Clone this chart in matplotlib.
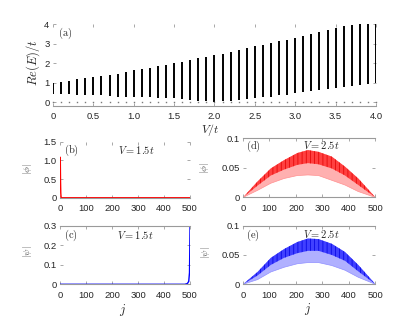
import numpy as np
import matplotlib
matplotlib.use('Agg')
import matplotlib.pyplot as plt

#%% data

# (a) real part of the spectrum vs V/t, one bar per V value
V = np.linspace(0, 4, 41)
re_upper = [1.01, 1.06, 1.11, 1.18, 1.23, 1.29, 1.34, 1.40, 1.46, 1.56, 1.63,
            1.70, 1.75, 1.83, 1.90, 2.00, 2.07, 2.14, 2.26, 2.31, 2.40,
            2.48, 2.59, 2.67, 2.77, 2.86, 2.94, 3.03, 3.11, 3.20, 3.30,
            3.41, 3.49, 3.60, 3.70, 3.78, 3.89, 3.95, 4.06, 4.06, 4.06]
re_lower = [0.42, 0.42, 0.42, 0.38, 0.38, 0.35, 0.35, 0.33, 0.29, 0.29, 0.29,
            0.26, 0.26, 0.23, 0.21, 0.21, 0.17, 0.12, 0.09, 0.05, 0.03,
            0.05, 0.07, 0.12, 0.16, 0.21, 0.26, 0.29, 0.35, 0.38, 0.47,
            0.52, 0.59, 0.64, 0.67, 0.72, 0.77, 0.84, 0.89, 0.94, 0.98]
re_zero = [0.0] * 41

# (b) |phi| at V = 1.5t, left edge state
j_b = [1, 2, 3, 4, 5, 500]
phi_b = [1.08, 0.45, 0.12, 0.03, 0.0, 0.0]

# (c) |psi| at V = 1.5t, right edge state
j_c = [1, 480, 490, 495, 498, 499, 500]
psi_c = [0.0, 0.0, 0.004, 0.015, 0.06, 0.17, 0.30]

# (d), (e) extended states at V = 2.5t, envelopes of the fast oscillation
j_env = [0, 55, 105, 155, 205, 245, 285, 335, 385, 435, 500]
phi_d_up = [0, 0.027, 0.049, 0.063, 0.075, 0.080, 0.077, 0.069, 0.052, 0.032, 0]
phi_d_mid = [0, 0.020, 0.037, 0.047, 0.055, 0.058, 0.056, 0.049, 0.037, 0.021, 0]
phi_d_low = [0, 0.012, 0.024, 0.032, 0.037, 0.038, 0.037, 0.029, 0.021, 0.010, 0]
psi_e_up = [0, 0.021, 0.045, 0.060, 0.072, 0.078, 0.077, 0.069, 0.055, 0.033, 0]
psi_e_mid = [0, 0.015, 0.033, 0.045, 0.053, 0.057, 0.057, 0.050, 0.040, 0.022, 0]
psi_e_low = [0, 0.008, 0.021, 0.029, 0.035, 0.037, 0.037, 0.032, 0.024, 0.012, 0]

#%% style
plt.rcParams['mathtext.fontset'] = 'cm'
plt.rcParams['font.family'] = ['Liberation Sans', 'DejaVu Sans']
plt.rcParams['hatch.linewidth'] = 0.5
tick_size = 6.8
grey = '#9a9a9a'
txt = '#262626'


def style_axes(ax, top_line=True):
    for side in ['left', 'right']:
        ax.spines[side].set_visible(False)
    ax.spines['top'].set_visible(top_line)
    ax.spines['top'].set_color(grey)
    ax.spines['bottom'].set_color(grey)
    ax.spines['top'].set_linewidth(0.8)
    ax.spines['bottom'].set_linewidth(0.8)
    ax.tick_params(direction='in', length=2, width=0.6, color=grey,
                   labelsize=tick_size, labelcolor=txt,
                   top=True, right=True)
    ax.tick_params(axis='x', pad=4.5)
    ax.tick_params(axis='y', pad=2.5)


fig = plt.figure(figsize=(4.15, 3.2), dpi=100)

#%% (a)
ax_a = fig.add_axes([0.1277, 0.668, 0.7783, 0.257])
ax_a.vlines(V, re_lower, re_upper, color='black', linewidth=1.4)
ax_a.plot(V, re_zero, linestyle='none', marker='s', markersize=1.0,
          markeredgewidth=0, color='#7a7a7a', clip_on=False)
ax_a.set_xlim(0, 4)
ax_a.set_ylim(-0.2, 4)
ax_a.set_xticks(np.arange(0, 4.01, 0.5))
ax_a.set_xticklabels(['0', '0.5', '1.0', '1.5', '2.0', '2.5', '3.0', '3.5', '4.0'])
ax_a.set_yticks([0, 1, 2, 3, 4])
style_axes(ax_a, top_line=False)
ax_a.text(0.015, 0.89, r'$\mathrm{(a)}$', transform=ax_a.transAxes,
          fontsize=7.5, va='center', color=txt)
fig.text(33 / 415, 1 - 63 / 320, r'$Re(E)/t$', rotation=90, fontsize=9,
         ha='center', va='center', color=txt)
fig.text(210 / 415, 1 - 130 / 320, r'$V/t$', fontsize=8.5,
         ha='center', va='center', color=txt)

#%% (b)
ax_b = fig.add_axes([0.1446, 0.382, 0.3133, 0.175])
ax_b.plot(j_b, phi_b, color='red', linewidth=1.0)
ax_b.set_xlim(0, 500)
ax_b.set_ylim(0, 1.5)
ax_b.set_xticks(range(0, 501, 100))
ax_b.set_yticks([0, 0.5, 1.0, 1.5])
ax_b.set_yticklabels(['0', '0.5', '1.0', '1.5'])
style_axes(ax_b, top_line=False)
ax_b.text(0.03, 0.85, r'$\mathrm{(b)}$', transform=ax_b.transAxes,
          fontsize=7.5, va='center', color=txt)
ax_b.text(0.585, 0.85, r'$V=1.5t$', transform=ax_b.transAxes,
          fontsize=7.5, ha='center', va='center', color=txt)
fig.text(28 / 415, 1 - 169 / 320, r'$|\phi|$', rotation=90, fontsize=7,
         ha='center', va='center', color='#555555')

#%% (c)
ax_c = fig.add_axes([0.1446, 0.1116, 0.3133, 0.1824])
ax_c.plot(j_c, psi_c, color='blue', linewidth=1.0)
ax_c.set_xlim(0, 500)
ax_c.set_ylim(0, 0.3)
ax_c.set_xticks(range(0, 501, 100))
ax_c.set_yticks([0, 0.1, 0.2, 0.3])
ax_c.set_yticklabels(['0', '0.1', '0.2', '0.3'])
style_axes(ax_c)
ax_c.text(0.03, 0.846, r'$\mathrm{(c)}$', transform=ax_c.transAxes,
          fontsize=7.5, va='center', color=txt)
ax_c.text(0.58, 0.846, r'$V=1.5t$', transform=ax_c.transAxes,
          fontsize=7.5, ha='center', va='center', color=txt)
fig.text(28 / 415, 1 - 252 / 320, r'$|\psi|$', rotation=90, fontsize=7,
         ha='center', va='center', color='#555555')
fig.text(123 / 415, 1 - 310 / 320, r'$j$', fontsize=9,
         ha='center', va='center', color=txt)

#%% (d)
ax_d = fig.add_axes([0.5855, 0.383, 0.3193, 0.185])
ax_d.fill_between(j_env, phi_d_low, phi_d_up, facecolor='#ffb0b0', linewidth=0)
ax_d.fill_between(j_env, phi_d_mid, phi_d_up, facecolor='#ff4040',
                  edgecolor='#e00000', hatch='||||', linewidth=0)
ax_d.plot(j_env, phi_d_low, color='#ff9090', linewidth=0.5)
ax_d.set_xlim(0, 500)
ax_d.set_ylim(0, 0.1)
ax_d.set_xticks(range(0, 501, 100))
ax_d.set_yticks([0, 0.05, 0.1])
ax_d.set_yticklabels(['0', '0.05', '0.1'])
style_axes(ax_d)
ax_d.text(0.02, 0.87, r'$\mathrm{(d)}$', transform=ax_d.transAxes,
          fontsize=7.5, va='center', color=txt)
ax_d.text(0.594, 0.885, r'$V=2.5t$', transform=ax_d.transAxes,
          fontsize=7.5, ha='center', va='center', color=txt)
fig.text(204 / 415, 1 - 168 / 320, r'$|\phi|$', rotation=90, fontsize=7,
         ha='center', va='center', color='#555555')

#%% (e)
ax_e = fig.add_axes([0.5855, 0.1116, 0.3193, 0.1834])
ax_e.fill_between(j_env, psi_e_low, psi_e_up, facecolor='#b0b0ff', linewidth=0)
ax_e.fill_between(j_env, psi_e_mid, psi_e_up, facecolor='#4040ff',
                  edgecolor='#0000e0', hatch='||||', linewidth=0)
ax_e.plot(j_env, psi_e_low, color='#9090ff', linewidth=0.5)
ax_e.set_xlim(0, 500)
ax_e.set_ylim(0, 0.1)
ax_e.set_xticks(range(0, 501, 100))
ax_e.set_yticks([0, 0.05, 0.1])
ax_e.set_yticklabels(['0', '0.05', '0.1'])
style_axes(ax_e)
ax_e.text(0.02, 0.84, r'$\mathrm{(e)}$', transform=ax_e.transAxes,
          fontsize=7.5, va='center', color=txt)
ax_e.text(0.594, 0.855, r'$V=2.5t$', transform=ax_e.transAxes,
          fontsize=7.5, ha='center', va='center', color=txt)
fig.text(205 / 415, 1 - 253 / 320, r'$|\psi|$', rotation=90, fontsize=7,
         ha='center', va='center', color='#555555')
fig.text(308 / 415, 1 - 309 / 320, r'$j$', fontsize=9,
         ha='center', va='center', color=txt)

plt.savefig('out.png', dpi=100)
plt.close(fig)
